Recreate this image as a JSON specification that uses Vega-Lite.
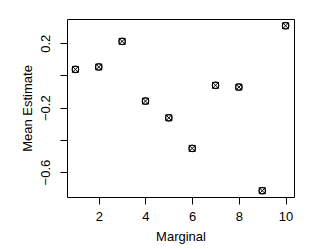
{
  "$schema": "https://vega.github.io/schema/vega-lite/v6.json",
  "width": 227,
  "height": 178,
  "autosize": {"type": "none"},
  "padding": {"left": 67, "top": 19, "right": 35, "bottom": 52},
  "background": "white",
  "config": {
    "view": {"stroke": "black", "strokeWidth": 1},
    "font": "Liberation Sans",
    "axis": {
      "grid": false,
      "domain": false,
      "tickColor": "black",
      "tickSize": 7,
      "labelColor": "black",
      "labelFontSize": 13,
      "titleFontSize": 13,
      "titleFontWeight": "normal",
      "titleColor": "black",
      "labelFont": "Liberation Sans",
      "titleFont": "Liberation Sans"
    }
  },
  "data": {
    "values": [
      {"marginal": 1, "estimate": 0.038},
      {"marginal": 2, "estimate": 0.053},
      {"marginal": 3, "estimate": 0.212},
      {"marginal": 4, "estimate": -0.159},
      {"marginal": 5, "estimate": -0.263},
      {"marginal": 6, "estimate": -0.453},
      {"marginal": 7, "estimate": -0.061},
      {"marginal": 8, "estimate": -0.072},
      {"marginal": 9, "estimate": -0.716},
      {"marginal": 10, "estimate": 0.309}
    ]
  },
  "encoding": {
    "x": {
      "field": "marginal",
      "type": "quantitative",
      "scale": {"domain": [0.64, 10.36], "nice": false, "zero": false},
      "axis": {"values": [2, 4, 6, 8, 10], "title": "Marginal", "labelPadding": 6, "titlePadding": 7}
    },
    "y": {
      "field": "estimate",
      "type": "quantitative",
      "scale": {"domain": [-0.755, 0.351], "nice": false, "zero": false},
      "axis": {
        "values": [-0.6, -0.4, -0.2, 0, 0.2],
        "format": ".1f",
        "labelExpr": "(datum.value == 0 || datum.value == -0.4) ? '' : datum.label",
        "labelAngle": -90,
        "labelAlign": "center",
        "labelBaseline": "bottom",
        "labelPadding": 8,
        "title": "Mean Estimate",
        "titlePadding": 5
      }
    }
  },
  "layer": [
    {"mark": {"type": "point", "shape": "square", "filled": false, "stroke": "black", "strokeWidth": 1, "size": 36, "opacity": 1}},
    {"mark": {"type": "point", "shape": "circle", "filled": false, "stroke": "black", "strokeWidth": 1, "size": 45, "opacity": 1}},
    {"mark": {"type": "point", "shape": "M-1,-1L1,1M-1,1L1,-1", "filled": false, "stroke": "black", "strokeWidth": 1, "size": 36, "opacity": 1}}
  ]
}
